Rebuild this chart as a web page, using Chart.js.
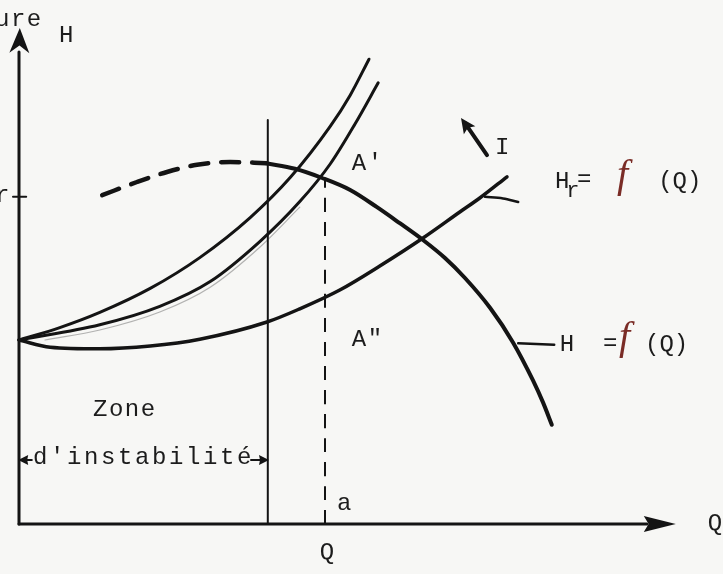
<!DOCTYPE html>
<html>
<head>
<meta charset="utf-8">
<script src="https://cdn.jsdelivr.net/npm/chart.js@4/dist/chart.umd.min.js"></script>
<style>
  html, body { margin: 0; padding: 0; background: #f7f7f5; overflow: hidden; }
  canvas { display: block; }
</style>
</head>
<body>
<canvas id="c" width="723" height="574"></canvas>
<script>
// Courbes caractéristiques : débit Q (abscisse) et hauteur H (ordonnée), unités arbitraires.

// Courbes de réseau Hr = f(Q) (deux réseaux raides, un intermédiaire pâle, un réseau plat)
const reseau1Q = [0, 10.2, 20.2, 32.8, 45.2, 57.8, 67.8, 77.8, 82.8, 87.5];
const reseau1H = [46, 49.1, 52.9, 58.9, 66.6, 76.6, 86.6, 99.4, 107.2, 116.2];
const reseau2Q = [0, 20.2, 35.2, 47.8, 60.2, 70.2, 77.8, 84, 89.8];
const reseau2H = [46, 49.8, 54.4, 60.6, 70.6, 80.6, 90, 100, 110.3];
const reseauPaleQ = [6.5, 20.2, 35.2, 47.8, 60.2, 70.2];
const reseauPaleH = [46, 48.5, 53, 59.2, 69.2, 79.2];
const reseau3Q = [0, 7.8, 20.2, 32.8, 45.2, 62, 70.2, 80.2, 90.2, 101, 110.2, 115.2, 122];
const reseau3H = [46, 44.2, 43.8, 44.5, 46.2, 50.5, 53.8, 58.5, 64.5, 71.5, 78, 81.5, 86.8];

// Courbe de la pompe H = f(Q) : branche instable (tiretée) puis branche stable
const pompeInstableQ = [20.8, 29.5, 37, 44.5, 52.8, 61.8];
const pompeInstableH = [82.2, 85.5, 88, 89.8, 90.5, 90.2];
const pompeStableQ = [61.8, 69, 75.8, 82.8, 89.5, 95.2, 101, 106.5, 111.5, 117.8, 123.5, 128.5, 131, 133.2];
const pompeStableH = [90.2, 88.8, 86.5, 83.5, 79.2, 75.2, 71, 66.5, 61.5, 54, 45.4, 35.9, 30.4, 24.8];

// Repères
const limiteInstabiliteQ = 62.2;   // limite de la zone d'instabilité
const limiteInstabiliteH = 101;
const pointAQ = 76.5;              // point de fonctionnement A'
const pointAH = 86.5;
const hauteurHr = 81.8;            // graduation Hr sur l'axe H
const axeHMax = 118, axeHPointe = 124;
const axeQMax = 157, axeQPointe = 164.2;

const pts = (qs, hs) => qs.map((q, i) => ({ x: q, y: hs[i] }));
const INK = '#141414';
const MONO = "'Liberation Mono', 'DejaVu Sans Mono', monospace";

function serie(data, width, extra) {
  return Object.assign({
    data, showLine: true, pointRadius: 0, borderColor: INK, borderWidth: width,
    fill: false, cubicInterpolationMode: 'monotone', borderCapStyle: 'round', borderJoinStyle: 'round'
  }, extra || {});
}

const datasets = [
  serie([{ x: 0, y: 0 }, { x: 0, y: axeHMax }], 3),
  serie([{ x: 0, y: 0 }, { x: axeQMax, y: 0 }], 3),
  serie([{ x: -1.5, y: hauteurHr }, { x: 1.8, y: hauteurHr }], 2),
  serie([{ x: limiteInstabiliteQ, y: 0 }, { x: limiteInstabiliteQ, y: limiteInstabiliteH }], 2),
  serie([{ x: pointAQ, y: 0 }, { x: pointAQ, y: pointAH }], 2, { borderDash: [14, 10], borderCapStyle: 'butt' }),
  serie(pts(reseauPaleQ, reseauPaleH), 1.2, { borderColor: 'rgba(120,120,120,0.55)' }),
  serie(pts(reseau1Q, reseau1H), 3),
  serie(pts(reseau2Q, reseau2H), 3),
  serie(pts(reseau3Q, reseau3H), 3.5),
  serie(pts(pompeInstableQ, pompeInstableH), 4.5, { borderDash: [18, 13], borderCapStyle: 'round' }),
  serie(pts(pompeStableQ, pompeStableH), 4),
  // traits de rappel des étiquettes
  serie([{ x: 116.5, y: 81.8 }, { x: 121, y: 81.4 }, { x: 124.8, y: 80.5 }], 2.5),
  serie([{ x: 124.8, y: 45.2 }, { x: 133.8, y: 44.8 }], 2.5),
  // flèches de la zone d'instabilité
  serie([{ x: 0.5, y: 16 }, { x: 3.2, y: 16 }], 2),
  serie([{ x: 58, y: 16 }, { x: 61.5, y: 16 }], 2),
  // flèche I
  serie([{ x: 117, y: 92.2 }, { x: 111.5, y: 100.2 }], 4, { cubicInterpolationMode: 'default' })
];

const decor = {
  id: 'decor',
  beforeDraw(chart) {
    const c = chart.ctx;
    c.save();
    c.fillStyle = '#f7f7f5';
    c.fillRect(0, 0, chart.width, chart.height);
    c.restore();
  },
  afterDatasetsDraw(chart) {
    const c = chart.ctx;
    const X = v => chart.scales.x.getPixelForValue(v);
    const Y = v => chart.scales.y.getPixelForValue(v);

    // pointe de flèche pleine, orientée de (fx,fy) vers (tx,ty)
    function head(fx, fy, tx, ty, len, half, notch) {
      const ang = Math.atan2(ty - fy, tx - fx);
      const ux = Math.cos(ang), uy = Math.sin(ang);
      const bx = tx - ux * len, by = ty - uy * len;
      c.beginPath();
      c.moveTo(tx, ty);
      c.lineTo(bx - uy * half, by + ux * half);
      c.lineTo(tx - ux * len * (1 - notch), ty - uy * len * (1 - notch));
      c.lineTo(bx + uy * half, by - ux * half);
      c.closePath();
      c.fill();
    }

    c.save();
    c.fillStyle = INK;
    head(X(0), Y(axeHMax - 5), X(0.2), Y(axeHPointe), 25, 10, 0.3);
    head(X(axeQMax - 8), Y(0), X(axeQPointe), Y(0), 32, 8, 0.15);
    head(X(117), Y(92.2), X(110.5), Y(101.5), 15, 7, 0.2);
    head(X(4), Y(16), X(-0.2), Y(16), 10, 5, 0.1);
    head(X(57), Y(16), X(62.5), Y(16), 10, 5, 0.1);

    function text(str, q, h, opts) {
      opts = opts || {};
      c.font = opts.font || ('24px ' + MONO);
      c.fillStyle = opts.color || '#1c1c1c';
      c.textAlign = opts.align || 'left';
      c.textBaseline = 'middle';
      c.letterSpacing = opts.spacing || '1.5px';
      c.fillText(str, X(q), Y(h));
    }
    const F = "italic 40px 'Liberation Serif', 'DejaVu Serif', serif";
    const RED = '#7a2c26';

    text('ure', -6, 126);
    text('H', 10, 122.2);
    text('Hr', -2, 82.2, { align: 'right' });
    text("A'", 83.2, 90.2);
    text('A"', 83.2, 46);
    text('I', 119, 94);
    text('a', 79.5, 5);
    text('Q', 77.2, -7.2, { align: 'center' });
    text('Q', 172.2, 0);
    text('Zone', 18.5, 28.5);
    text("d'instabilité", 3.5, 16.5, { spacing: '2.6px' });

    // Hr = f(Q)
    text('H', 134, 85.5);
    text('r', 136.8, 83.2, { font: '22px ' + MONO });
    text('=', 139.5, 86);
    text('f', 149.5, 86.8, { font: F, color: RED, spacing: '0px' });
    text('(Q)', 159.8, 85.5, { spacing: '0px' });

    // H = f(Q)
    text('H', 135.2, 44.8);
    text('=', 146, 45);
    text('f', 150, 46.5, { font: F, color: RED, spacing: '0px' });
    text('(Q)', 156.5, 44.8, { spacing: '0px' });
    c.restore();
  }
};

new Chart(document.getElementById('c'), {
  type: 'scatter',
  data: { datasets },
  options: {
    responsive: false,
    animation: false,
    events: [],
    layout: { padding: 0 },
    plugins: { legend: { display: false }, tooltip: { enabled: false }, title: { display: false } },
    scales: {
      x: { type: 'linear', display: false, min: -4.75, max: 176 },
      y: { type: 'linear', display: false, min: -12.5, max: 131 }
    }
  },
  plugins: [decor]
});
</script>
</body>
</html>
